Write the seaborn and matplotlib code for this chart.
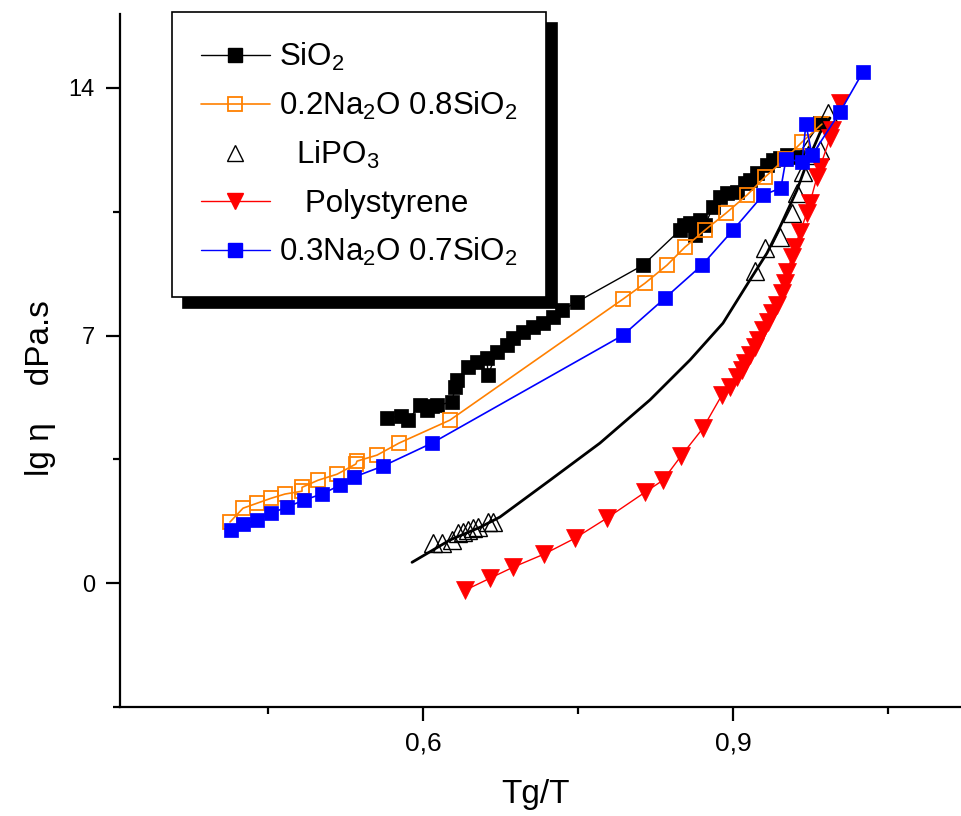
import numpy as np
import pandas as pd
import matplotlib
matplotlib.use("Agg")
import matplotlib.pyplot as plt
from matplotlib.lines import Line2D
import seaborn as sns

# ---------------- data ----------------
sio2_x = [0.5651, 0.5787, 0.5855, 0.5971, 0.6039, 0.6087, 0.6136, 0.6281, 0.6310, 0.6329,
          0.6436, 0.6523, 0.6620, 0.6629, 0.6716, 0.6813, 0.6871, 0.6968, 0.7065, 0.7162,
          0.7258, 0.7346, 0.7491, 0.8130, 0.8488, 0.8526, 0.8585, 0.8633, 0.8681, 0.8730,
          0.8807, 0.8875, 0.8943, 0.9040, 0.9117, 0.9165, 0.9233, 0.9330, 0.9388, 0.9456,
          0.9524, 0.9620, 0.9843]
sio2_y = [4.67, 4.72, 4.61, 5.03, 4.89, 5.01, 5.03, 5.12, 5.54, 5.74,
          6.11, 6.25, 6.36, 5.88, 6.53, 6.73, 6.93, 7.10, 7.24, 7.35,
          7.52, 7.72, 7.95, 8.99, 9.98, 10.12, 10.18, 9.84, 10.27, 10.12,
          10.63, 10.92, 11.03, 11.06, 11.31, 11.40, 11.59, 11.82, 11.96, 12.02,
          12.10, 12.05, 13.01]

na02_x = [0.4132, 0.4258, 0.4393, 0.4529, 0.4664, 0.4829, 0.4829, 0.4984, 0.5168, 0.5351,
          0.5361, 0.5555, 0.5768, 0.6261, 0.7936, 0.8149, 0.8362, 0.8536, 0.8730, 0.8933,
          0.9136, 0.9311, 0.9504, 0.9669, 0.9862]
na02_y = [1.73, 2.12, 2.26, 2.40, 2.52, 2.60, 2.71, 2.91, 3.08, 3.37,
          3.45, 3.62, 3.96, 4.61, 8.03, 8.48, 8.99, 9.50, 9.98, 10.46,
          10.97, 11.48, 11.99, 12.47, 12.98]

lipo3_x = [0.6097, 0.6184, 0.6281, 0.6339, 0.6387, 0.6436, 0.6484, 0.6532, 0.6629, 0.6678,
           0.9214, 0.9311, 0.9456, 0.9572, 0.9620, 0.9678, 0.9727, 0.9843, 0.9920]
lipo3_y = [1.13, 1.13, 1.22, 1.41, 1.44, 1.50, 1.56, 1.58, 1.73, 1.73,
           8.82, 9.47, 9.78, 10.46, 11.03, 11.62, 12.10, 12.25, 13.29]

lipo3_fit_x = [0.5894, 0.6261, 0.6552, 0.6745, 0.7229, 0.7713, 0.8197, 0.8585, 0.8904,
               0.9165, 0.9330, 0.9456, 0.9620, 0.9717, 0.9843, 0.9940]
lipo3_fit_y = [0.59, 1.22, 1.58, 1.87, 2.91, 3.96, 5.18, 6.31, 7.35,
               8.57, 9.33, 10.07, 11.11, 11.88, 12.73, 13.15]

ps_x = [0.6407, 0.6649, 0.6871, 0.7171, 0.7471, 0.7781, 0.8149, 0.8323, 0.8497, 0.8710,
        0.8894, 0.8972, 0.9040, 0.9088, 0.9117, 0.9165, 0.9214, 0.9243, 0.9291, 0.9340,
        0.9378, 0.9427, 0.9475, 0.9504, 0.9524, 0.9572, 0.9601, 0.9650, 0.9717, 0.9746,
        0.9814, 0.9843, 0.9940, 0.9959, 1.0037]
ps_y = [-0.20, 0.14, 0.45, 0.82, 1.27, 1.84, 2.57, 2.91, 3.59, 4.38,
        5.32, 5.54, 5.83, 6.02, 6.22, 6.45, 6.67, 6.87, 7.15, 7.38,
        7.64, 7.86, 8.20, 8.48, 8.80, 9.22, 9.50, 9.93, 10.46, 10.75,
        11.48, 11.76, 12.58, 12.81, 13.57]

na03_x = [0.4141, 0.4258, 0.4393, 0.4529, 0.4683, 0.4848, 0.5022, 0.5197, 0.5332, 0.5613,
          0.6087, 0.7936, 0.8343, 0.8701, 0.9001, 0.9291, 0.9465, 0.9514, 0.9669, 0.9707,
          0.9766, 1.0037, 1.0259]
na03_y = [1.50, 1.67, 1.78, 1.98, 2.15, 2.35, 2.52, 2.77, 3.00, 3.31,
          3.96, 7.01, 8.06, 8.99, 9.98, 10.97, 11.17, 11.99, 11.91, 12.98,
          12.10, 13.32, 14.45]

labels = ["SiO$_2$", "0.2Na$_2$O 0.8SiO$_2$", "  LiPO$_3$", "   Polystyrene",
          "0.3Na$_2$O 0.7SiO$_2$"]
xtick_vals = [0.6, 0.9]
xtick_labels = ["0,6", "0,9"]
ytick_vals = [0, 7, 14]
ytick_labels = ["0", "7", "14"]

# ---------------- style ----------------
sns.set_theme(style="white")
plt.rcParams["font.family"] = ["Liberation Sans", "DejaVu Sans"]
plt.rcParams["mathtext.fontset"] = "custom"
plt.rcParams["mathtext.rm"] = "Liberation Sans"
plt.rcParams["mathtext.it"] = "Liberation Sans:italic"

ORANGE = "#FF8000"
BLUE = "#0000FF"
RED = "#FF0000"

fig = plt.figure(figsize=(9.62, 8.16), dpi=100)
ax = fig.add_axes([120 / 962, 109 / 816, 842 / 962, 693 / 816])

sns.lineplot(x=sio2_x, y=sio2_y, ax=ax, estimator=None, sort=False, color="black",
             lw=1.0, marker="s", markersize=10.5, markerfacecolor="black",
             markeredgecolor="black", markeredgewidth=0.5, legend=False)
sns.lineplot(x=na02_x, y=na02_y, ax=ax, estimator=None, sort=False, color=ORANGE,
             lw=1.2, marker="s", markersize=10.5, markerfacecolor="none",
             markeredgecolor=ORANGE, markeredgewidth=1.3, legend=False)
sns.lineplot(x=lipo3_x, y=lipo3_y, ax=ax, estimator=None, sort=False, color="black",
             linestyle="none", marker="^", markersize=12.5, markerfacecolor="none",
             markeredgecolor="black", markeredgewidth=1.0, legend=False)
sns.lineplot(x=lipo3_fit_x, y=lipo3_fit_y, ax=ax, estimator=None, sort=False,
             color="black", lw=2.0, legend=False)
sns.lineplot(x=ps_x, y=ps_y, ax=ax, estimator=None, sort=False, color=RED,
             lw=1.0, marker="v", markersize=13, markerfacecolor=RED,
             markeredgecolor=RED, markeredgewidth=0.5, legend=False)
sns.lineplot(x=na03_x, y=na03_y, ax=ax, estimator=None, sort=False, color=BLUE,
             lw=1.2, marker="s", markersize=10.5, markerfacecolor=BLUE,
             markeredgecolor=BLUE, markeredgewidth=0.5, legend=False)

ax.set_xlim(0.3067, 1.1218)
ax.set_ylim(-3.5, 16.09)

ax.set_xticks(xtick_vals)
ax.set_xticklabels(xtick_labels)
ax.set_xticks([0.45, 0.75, 1.05], minor=True)
ax.set_yticks(ytick_vals)
ax.set_yticklabels(ytick_labels)
ax.set_yticks([-3.5, 3.5, 10.5], minor=True)

for side in ["top", "right"]:
    ax.spines[side].set_visible(False)
for side in ["left", "bottom"]:
    ax.spines[side].set_visible(True)
    ax.spines[side].set_color("black")
    ax.spines[side].set_linewidth(1.6)

ax.tick_params(axis="both", which="major", direction="out", length=10, width=1.6,
               color="black", labelcolor="black", pad=8, bottom=True, left=True)
ax.tick_params(axis="x", which="major", labelsize=19)
ax.tick_params(axis="y", which="major", labelsize=17)
ax.tick_params(axis="both", which="minor", direction="out", length=5, width=1.6,
               color="black", bottom=True, left=True)

ax.set_xlabel("Tg/T", fontsize=24, color="black")
ax.set_ylabel("lg η    dPa.s", fontsize=24, color="black")
ax.xaxis.set_label_coords(0.493, -0.104)
ax.yaxis.set_label_coords(-0.076, 0.46)
ax.grid(False)
ax.set_facecolor("white")

handles = [
    Line2D([], [], color="black", lw=1.0, marker="s", markersize=10,
           markerfacecolor="black", markeredgecolor="black"),
    Line2D([], [], color=ORANGE, lw=1.2, marker="s", markersize=10,
           markerfacecolor="none", markeredgecolor=ORANGE, markeredgewidth=1.3),
    Line2D([], [], color="black", linestyle="none", marker="^", markersize=12,
           markerfacecolor="none", markeredgecolor="black", markeredgewidth=1.0),
    Line2D([], [], color=RED, lw=1.0, marker="v", markersize=12,
           markerfacecolor=RED, markeredgecolor=RED),
    Line2D([], [], color=BLUE, lw=1.0, marker="s", markersize=10,
           markerfacecolor=BLUE, markeredgecolor=BLUE),
]
leg = ax.legend(handles, labels, loc="upper left", bbox_to_anchor=(0.0618, 1.003),
                borderaxespad=0, fontsize=22.5, frameon=True, fancybox=False,
                framealpha=1, edgecolor="black", numpoints=1, handlelength=2.2,
                handletextpad=0.3, labelspacing=0.55, borderpad=0.92,
                shadow={"ox": 8, "oy": -8, "color": "black", "alpha": 1})
leg.get_frame().set_linewidth(1.2)
for t in leg.get_texts():
    t.set_color("black")

fig.savefig("out.png", dpi=100)
